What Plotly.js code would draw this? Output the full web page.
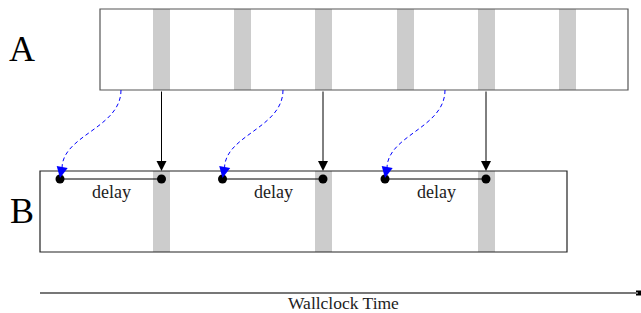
<!DOCTYPE html>
<html>
<head>
<meta charset="utf-8">
<script src="https://cdn.plot.ly/plotly-3.0.1.min.js"></script>
<style>html,body{margin:0;padding:0;background:#fff;}#chart{width:641px;height:313px;}</style>
</head>
<body>
<div id="chart"></div>
<script>
// ---- data (diagram coordinates: x = wallclock time units, y = lane units) ----
const laneNames = ['A', 'B'];
const laneStart = [100, 40];
const laneEnd = [628, 567];
const laneTop = [9, 171];
const laneBottom = [90, 252];
const aBusyStart = [153, 234, 315, 397, 478, 559];
const bBusyStart = [153, 315, 478];
const busyLength = 17;
const sendTime = [121, 283, 445];        // dashed blue: leaves A
const receiveTime = [60, 222.5, 385];    // dashed blue: arrives in B
const frameTime = [161.5, 323, 486];     // black arrows A -> B
const delayText = ['delay', 'delay', 'delay'];
const eventLevel = 179;
const timeAxisStart = 40;
const timeAxisEnd = 640;
const timeAxisLevel = 293;
const timeAxisLabel = 'Wallclock Time';

// ---- build ----
const serif = 'Liberation Serif, Times New Roman, serif';
const shapes = [];
const annotations = [];
const traces = [];

function busyShapes(starts, lane) {
  starts.forEach(s => shapes.push({
    type: 'rect', xref: 'x', yref: 'y', layer: 'below',
    x0: s, x1: s + busyLength, y0: laneTop[lane], y1: laneBottom[lane],
    fillcolor: '#cccccc', line: {width: 0}
  }));
}
busyShapes(aBusyStart, 0);
busyShapes(bBusyStart, 1);

laneNames.forEach((name, i) => {
  shapes.push({
    type: 'rect', xref: 'x', yref: 'y',
    x0: laneStart[i], x1: laneEnd[i], y0: laneTop[i], y1: laneBottom[i],
    fillcolor: 'rgba(0,0,0,0)', line: {color: i === 0 ? '#555' : '#222', width: 1.2}
  });
  annotations.push({
    xref: 'x', yref: 'y', x: 22, y: (laneTop[i] + laneBottom[i]) / 2 - 1,
    text: name, showarrow: false, xanchor: 'center', yanchor: 'middle',
    font: {family: serif, size: 36, color: '#000'}
  });
});

// dashed blue curves
sendTime.forEach((s, i) => {
  const r = receiveTime[i];
  const y0 = laneBottom[0];
  const y1 = eventLevel - 11;
  shapes.push({
    type: 'path', xref: 'x', yref: 'y',
    path: `M ${s},${y0} C ${s},${y0 + 38} ${r + 2.5},${y0 + 45} ${r + 2},${y1}`,
    line: {color: '#0000ff', width: 1, dash: '4px,3px'}
  });
  annotations.push({
    xref: 'x', yref: 'y', axref: 'x', ayref: 'y',
    x: r, y: eventLevel - 1, ax: r + 2, ay: y1,
    showarrow: true, arrowhead: 2, arrowsize: 1.4, arrowwidth: 1.6,
    arrowcolor: '#0000ff', standoff: 0, startstandoff: 0, text: ''
  });
});

// black arrows A -> B
frameTime.forEach(f => {
  annotations.push({
    xref: 'x', yref: 'y', axref: 'x', ayref: 'y',
    x: f, y: laneTop[1], ax: f, ay: laneBottom[0],
    showarrow: true, arrowhead: 2, arrowsize: 2, arrowwidth: 1,
    arrowcolor: '#000', standoff: 0, text: ''
  });
});

// delay segments + dots
receiveTime.forEach((r, i) => {
  traces.push({
    type: 'scatter', mode: 'lines', x: [r, frameTime[i]], y: [eventLevel, eventLevel],
    line: {color: '#000', width: 1}, hoverinfo: 'skip', showlegend: false
  });
  annotations.push({
    xref: 'x', yref: 'y', x: (r + frameTime[i]) / 2 + 0.5, y: eventLevel + 13,
    text: delayText[i], showarrow: false, xanchor: 'center', yanchor: 'middle',
    font: {family: serif, size: 18, color: '#222'}
  });
});
traces.push({
  type: 'scatter', mode: 'markers',
  x: receiveTime.concat(frameTime),
  y: receiveTime.concat(frameTime).map(() => eventLevel),
  marker: {color: '#000', size: 9}, hoverinfo: 'skip', showlegend: false
});

// wallclock axis
shapes.push({
  type: 'line', xref: 'x', yref: 'y',
  x0: timeAxisStart, x1: timeAxisEnd - 2, y0: timeAxisLevel, y1: timeAxisLevel,
  line: {color: '#777', width: 2}
});
traces.push({
  type: 'scatter', mode: 'markers', x: [timeAxisEnd - 1.5], y: [timeAxisLevel],
  marker: {color: '#000', size: 5, symbol: 'square'}, hoverinfo: 'skip', showlegend: false
});
annotations.push({
  xref: 'x', yref: 'y', x: (timeAxisStart + timeAxisEnd) / 2 + 3.5, y: timeAxisLevel + 10,
  text: timeAxisLabel, showarrow: false, xanchor: 'center', yanchor: 'middle',
  font: {family: serif, size: 17.5, color: '#222'}
});

const layout = {
  width: 641, height: 313,
  margin: {l: 0, r: 0, t: 0, b: 0},
  paper_bgcolor: '#fff', plot_bgcolor: '#fff',
  showlegend: false,
  xaxis: {range: [0, 641], visible: false, fixedrange: true},
  yaxis: {range: [313, 0], visible: false, fixedrange: true},
  shapes: shapes,
  annotations: annotations
};
Plotly.newPlot('chart', traces, layout, {displayModeBar: false, staticPlot: true});
</script>
</body>
</html>
